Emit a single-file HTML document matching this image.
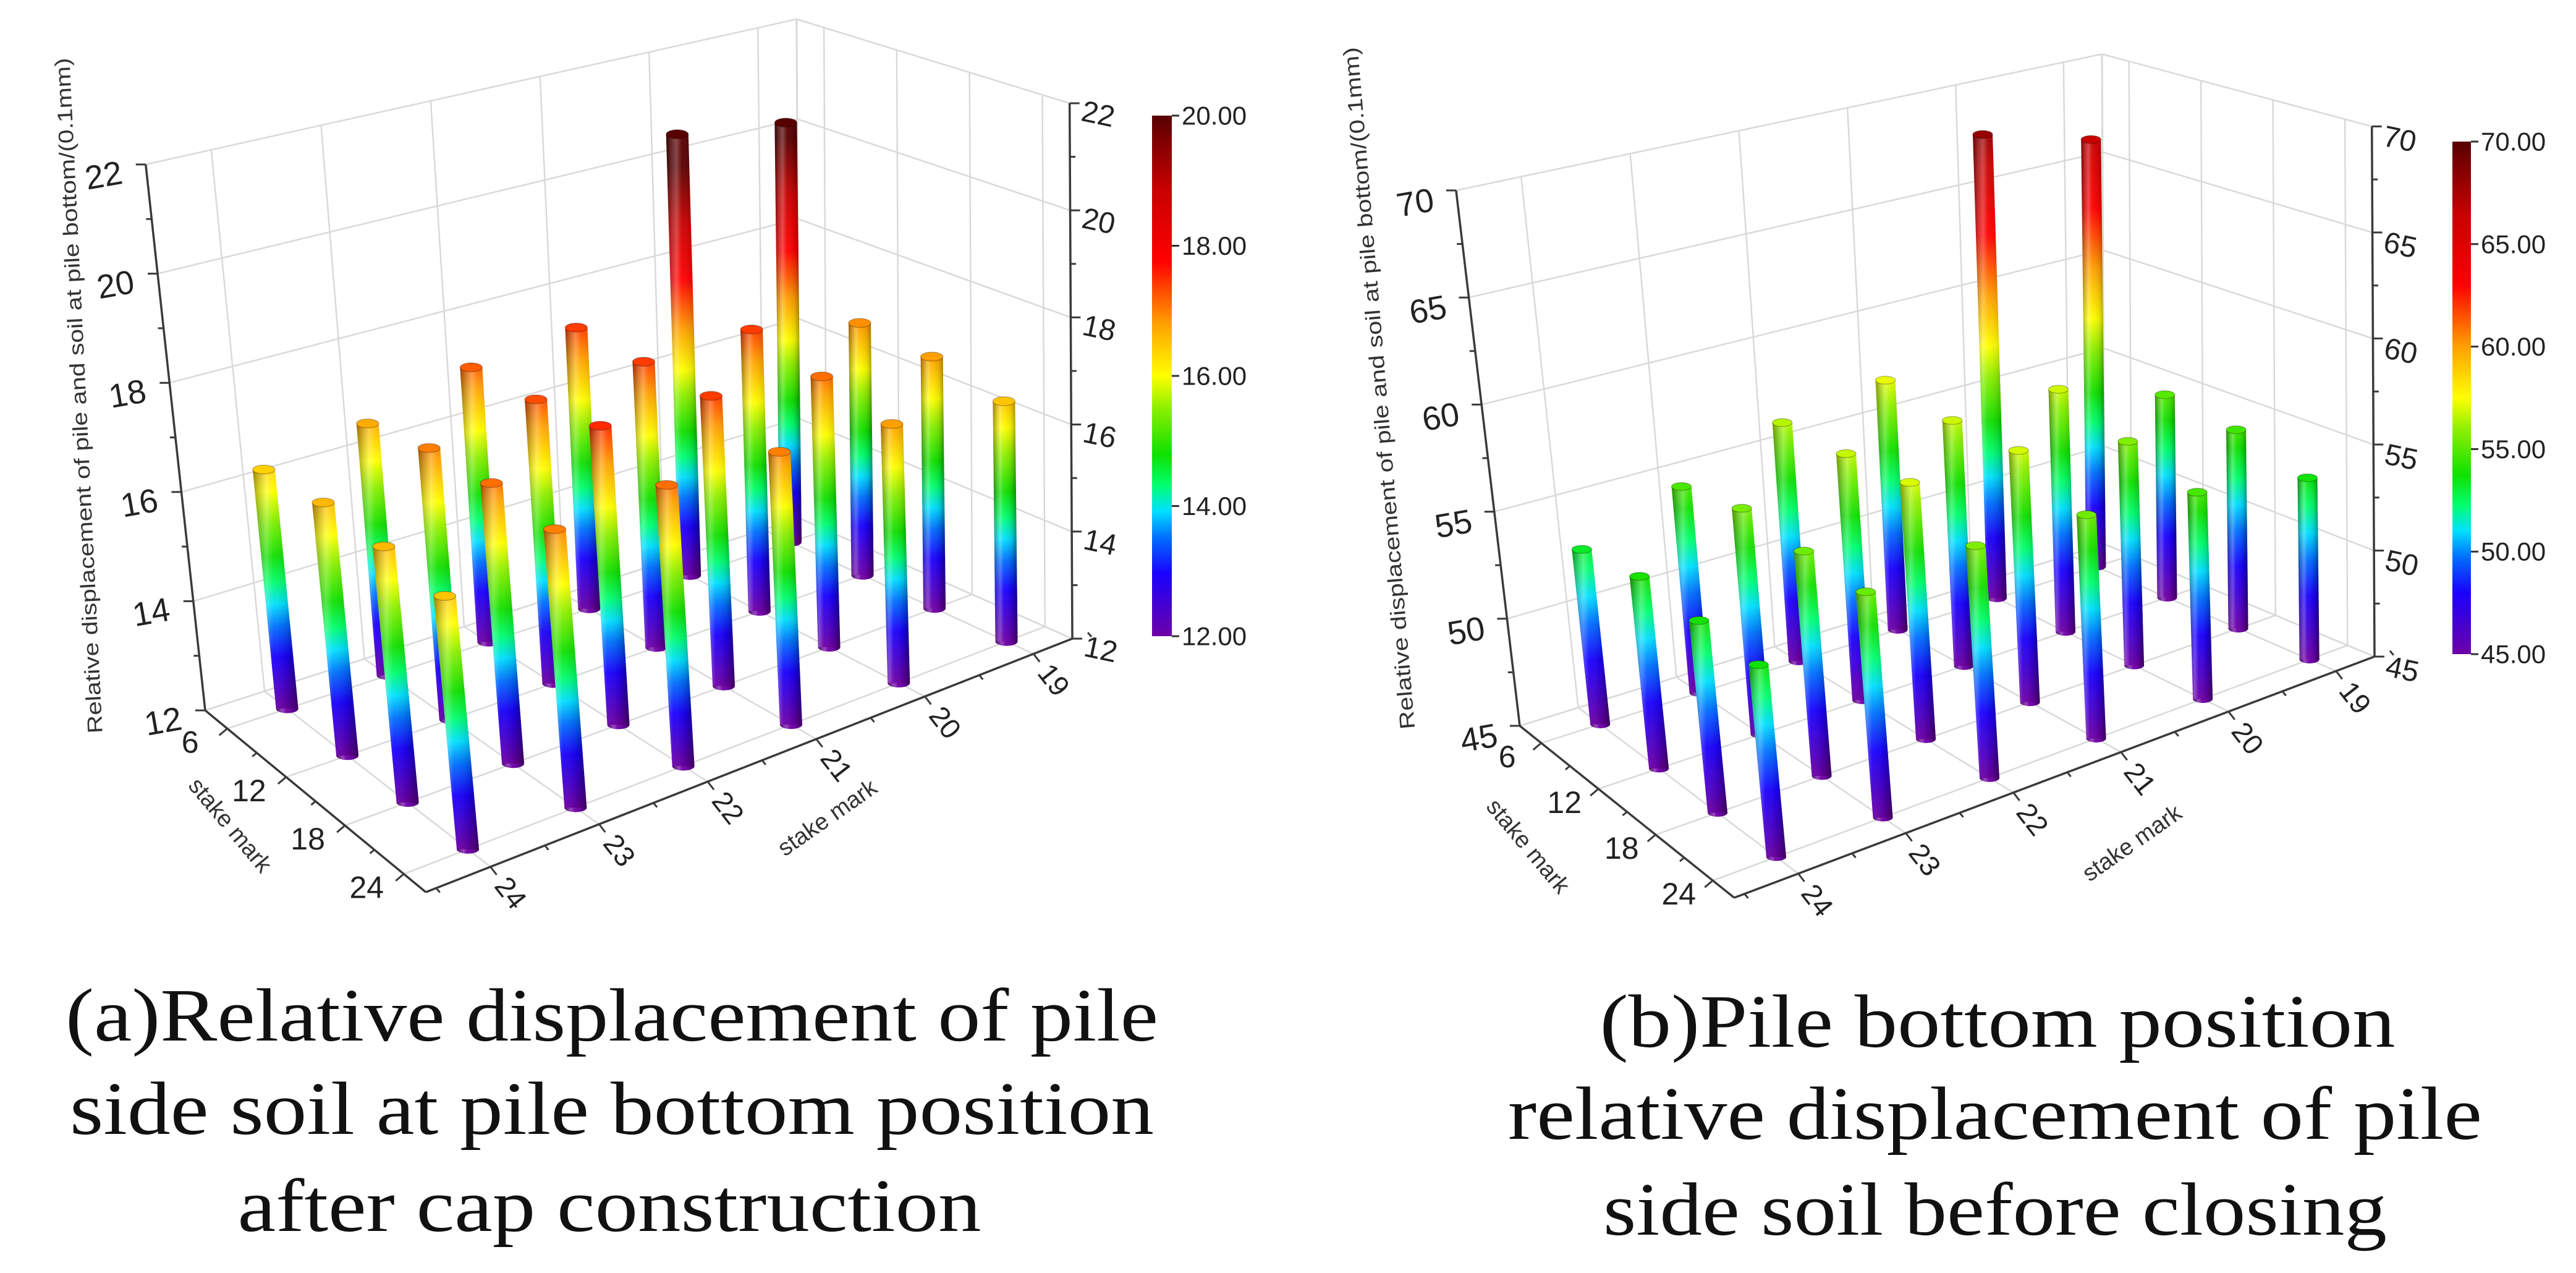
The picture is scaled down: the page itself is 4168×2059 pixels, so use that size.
<!DOCTYPE html>
<html><head><meta charset="utf-8">
<style>
html,body{margin:0;padding:0;background:#fff;width:4168px;height:2059px;overflow:hidden}
svg{display:block}
text{font-family:"Liberation Sans",sans-serif}
.cap{font-family:"Liberation Serif",serif;font-size:122px;fill:#111}
</style></head>
<body>
<svg id="fig" xmlns="http://www.w3.org/2000/svg" width="4168" height="2059" viewBox="0 0 4168 2059">
<rect width="4168" height="2059" fill="#ffffff"/>
<defs id="defs"></defs>
<g id="chartA"></g>
<g id="chartB"></g>
<g>
<text class="cap" x="990" y="1683" text-anchor="middle" textLength="1768" lengthAdjust="spacingAndGlyphs">(a)Relative displacement of pile</text>
<text class="cap" x="990" y="1834" text-anchor="middle" textLength="1754" lengthAdjust="spacingAndGlyphs">side soil at pile bottom position</text>
<text class="cap" x="986" y="1991" text-anchor="middle" textLength="1203" lengthAdjust="spacingAndGlyphs">after cap construction</text>
</g>
<g>
<text class="cap" x="3232" y="1693" text-anchor="middle" textLength="1287" lengthAdjust="spacingAndGlyphs">(b)Pile bottom position</text>
<text class="cap" x="3228" y="1842" text-anchor="middle" textLength="1576" lengthAdjust="spacingAndGlyphs">relative displacement of pile</text>
<text class="cap" x="3228" y="1997" text-anchor="middle" textLength="1268" lengthAdjust="spacingAndGlyphs">side soil before closing</text>
</g>
</svg>
<script>
// ---- data ----
const stakeA = [6, 12, 18, 24];
const stakeB = [19, 20, 21, 22, 23, 24];
// chart (a) values, one array per B stake, ordered by stakeA
const aB19 = [20.3, 16.9, 16.8, 16.5];
const aB20 = [20.6, 17.4, 17.1, 16.8];
const aB21 = [17.4, 17.4, 17.4, 17.0];
const aB22 = [17.2, 17.3, 17.5, 17.1];
const aB23 = [16.7, 17.0, 17.1, 17.0];
const aB24 = [16.4, 16.6, 16.6, 16.5];
// chart (b) values
const bB19 = [66.5, 55.0, 54.6, 53.6];
const bB20 = [68.0, 56.8, 55.7, 54.7];
const bB21 = [57.2, 56.8, 56.9, 55.4];
const bB22 = [56.5, 56.7, 57.0, 55.7];
const bB23 = [54.8, 55.6, 55.4, 55.3];
const bB24 = [53.2, 53.9, 53.8, 53.7];
const aZTicks = [12, 14, 16, 18, 20, 22];
const bZTicks = [45, 50, 55, 60, 65, 70];
const aBarTicks = [12, 14, 16, 18, 20];
const bBarTicks = [45, 50, 55, 60, 65, 70];

const NS = "http://www.w3.org/2000/svg";
const defs = document.getElementById("defs");
function mk(tag, attrs, parent) {
  const e = document.createElementNS(NS, tag);
  for (const k in attrs) e.setAttribute(k, attrs[k]);
  if (parent) parent.appendChild(e);
  return e;
}
const cmap = [[0, "#6e00a6"], [0.12, "#1a00ff"], [0.19, "#0070ff"], [0.24, "#00e0ff"], [0.29, "#00ff70"], [0.35, "#10e000"], [0.44, "#90f000"], [0.5, "#ffff00"], [0.6, "#ffa000"], [0.72, "#ff0000"], [0.86, "#c80000"], [1, "#580000"]];
function hex(c){return [parseInt(c.substr(1,2),16),parseInt(c.substr(3,2),16),parseInt(c.substr(5,2),16)];}
function colorAt(t){
  t=Math.max(0,Math.min(1,t));
  for(let i=1;i<cmap.length;i++){ if(t<=cmap[i][0]){ const a=hex(cmap[i-1][1]),b=hex(cmap[i][1]); const f=(t-cmap[i-1][0])/(cmap[i][0]-cmap[i-1][0]); return "rgb("+a.map((v,k)=>Math.round(v+(b[k]-v)*f)).join(",")+")"; } }
  return cmap[cmap.length-1][1];
}
function addStops(g){ cmap.forEach(s=>mk("stop",{offset:s[0],"stop-color":s[1]},g)); }

const sh = mk("linearGradient",{id:"shade",x1:0,y1:0,x2:1,y2:0},defs);
[[0,"#000",0.38],[0.3,"#fff",0.28],[0.45,"#fff",0.05],[0.75,"#000",0.1],[1,"#000",0.45]].forEach(s=>mk("stop",{offset:s[0],"stop-color":s[1],"stop-opacity":s[2]},sh));

function uOfA(a){ return 0.1 + 0.8*(a-6)/18; }
function wOfB(b){ return 0.94 - 0.168*(b-19); }

function drawChart(root, cfg, rows, zTicks, barTicks, pfx){
  const zmin=zTicks[0], zmax=zTicks[zTicks.length-1];
  function bl(c,u,w){ return c[0]*(1-u)*(1-w)+c[1]*u*(1-w)+c[2]*u*w+c[3]*(1-u)*w; }
  function P(u,w,z){
    const x=bl(cfg.FX,u,w), y=bl(cfg.FY,u,w), s=bl(cfg.S,u,w), t=bl(cfg.T,u,w);
    const h=(z-zmin)*s; return [x-t*h, y-h];
  }
  function line(p,q,stroke,sw,name){
    const l=mk("line",{x1:p[0],y1:p[1],x2:q[0],y2:q[1],stroke:stroke,"stroke-width":sw},root);
    
    
    return l;
  }
  const grid="#d9d9d9";
  stakeA.forEach(a=>line(P(uOfA(a),0,zmin),P(uOfA(a),1,zmin),grid,2.5,"floor-gridline"));
  stakeB.forEach(b=>line(P(0,wOfB(b),zmin),P(1,wOfB(b),zmin),grid,2.5,"floor-gridline"));
  line(P(0,0,zmin),P(0,1,zmin),grid,2.5,"floor-edge");
  line(P(0,1,zmin),P(1,1,zmin),grid,2.5,"floor-edge");
  zTicks.forEach(z=>line(P(0,0,z),P(0,1,z),grid,2.5,"left-wall-gridline"));
  stakeB.forEach(b=>line(P(0,wOfB(b),zmin),P(0,wOfB(b),zmax),grid,2.5,"left-wall-gridline"));
  line(P(0,1,zmin),P(0,1,zmax),grid,3,"back-corner-edge");
  zTicks.forEach(z=>line(P(0,1,z),P(1,1,z),grid,2.5,"back-wall-gridline"));
  stakeA.forEach(a=>line(P(uOfA(a),1,zmin),P(uOfA(a),1,zmax),grid,2.5,"back-wall-gridline"));

  const ax="#3a3a3a";
  line(P(0,0,zmin),P(0,0,zmax),ax,3.5,"z-axis-left");
  line(P(1,1,zmin),P(1,1,zmax),ax,3.5,"z-axis-right");
  const zs=zTicks[1]-zTicks[0];
  for(let i=0;i<zTicks.length;i++){
    const z=zTicks[i];
    const pl=P(0,0,z), pr=P(1,1,z);
    line(pl,[pl[0]-16,pl[1]],ax,3,"z-tick-left");
    line(pr,[pr[0]+16,pr[1]],ax,3,"z-tick-right");
    if(i<zTicks.length-1){
      const m=z+zs/2, ml=P(0,0,m), mr=P(1,1,m);
      line(ml,[ml[0]-9,ml[1]],ax,3,"z-minor-tick-left");
      line(mr,[mr[0]+9,mr[1]],ax,3,"z-minor-tick-right");
    }
    const lx=pl[0]+cfg.zlOff[0], ly=pl[1]+cfg.zlOff[1];
    const tl=mk("text",{x:lx,y:ly,"text-anchor":"middle","dominant-baseline":"central","font-size":54,fill:"#222",transform:"rotate(-10 "+lx+" "+ly+")"},root);
    tl.textContent=z;
    
    
    const rx=pr[0]+cfg.zrOff[0], ry=pr[1]+cfg.zrOff[1];
    const tr=mk("text",{x:rx,y:ry,"text-anchor":"middle","dominant-baseline":"central","font-size":48,fill:"#222",transform:"rotate(12 "+rx+" "+ry+")"},root);
    tr.textContent=z;
    
    
  }
  line(P(0,0,zmin),P(1,0,zmin),ax,3.5,"x-axis-stake-a");
  line(P(1,0,zmin),P(1,1,zmin),ax,3.5,"y-axis-stake-b");
  for(let a=3;a<=27;a+=3){
    if(uOfA(a)<0||uOfA(a)>1) continue;
    const p=P(uOfA(a),0,zmin), major=(a%6===0);
    line(p,[p[0]-(major?13:7),p[1]+(major?11:6)],ax,3,"a-axis-tick");
  }
  stakeA.forEach(a=>{
    const p=P(uOfA(a),0,zmin);
    const t=mk("text",{x:p[0]+cfg.aOff[0],y:p[1]+cfg.aOff[1],"text-anchor":"middle","dominant-baseline":"central","font-size":50,fill:"#222"},root);
    t.textContent=a;
    
    
  });
  for(let b=18.5;b<=24.5;b+=0.5){
    const p=P(1,wOfB(b),zmin), major=Number.isInteger(b);
    line(p,[p[0]+(major?10:6),p[1]+(major?13:7)],ax,3,"b-axis-tick");
  }
  stakeB.forEach(b=>{
    const p=P(1,wOfB(b),zmin), x=p[0]+cfg.bOff[0], y=p[1]+cfg.bOff[1];
    const t=mk("text",{x:x,y:y,"text-anchor":"middle","dominant-baseline":"central","font-size":46,fill:"#222",transform:"rotate(52 "+x+" "+y+")"},root);
    t.textContent=b;
    
    
  });
  const s1=mk("text",{x:cfg.saPos[0],y:cfg.saPos[1],"text-anchor":"middle","dominant-baseline":"central","font-size":38,fill:"#333",transform:"rotate(50 "+cfg.saPos[0]+" "+cfg.saPos[1]+")"},root);
  s1.textContent="stake mark";
  
  
  const s2=mk("text",{x:cfg.sbPos[0],y:cfg.sbPos[1],"text-anchor":"middle","dominant-baseline":"central","font-size":38,fill:"#333",transform:"rotate(-35 "+cfg.sbPos[0]+" "+cfg.sbPos[1]+")"},root);
  s2.textContent="stake mark";
  
  
  const yt=mk("text",{x:cfg.ytPos[0],y:cfg.ytPos[1],"text-anchor":"middle","dominant-baseline":"central","font-size":34,fill:"#333",textLength:cfg.ytLen,lengthAdjust:"spacingAndGlyphs",transform:"rotate("+cfg.ytRot+" "+cfg.ytPos[0]+" "+cfg.ytPos[1]+")"},root);
  yt.textContent="Relative displacement of pile and soil at pile bottom/(0.1mm)";
  
  

  const piles=[];
  stakeB.forEach((b,j)=>stakeA.forEach((a,i)=>{
    const u=uOfA(a), w=wOfB(b), v=rows[j][i];
    piles.push({a:a,b:b,v:v,bot:P(u,w,zmin),top:P(u,w,v),cm:P(u,w,cfg.cmax)});
  }));
  piles.sort((p,q)=>p.bot[1]-q.bot[1]);
  const r=cfg.r;
  piles.forEach((p,k)=>{
    const gid=pfx+"g"+k;
    const g=mk("linearGradient",{id:gid,gradientUnits:"userSpaceOnUse",x1:p.bot[0],y1:p.bot[1],x2:p.cm[0],y2:p.cm[1]},defs);
    addStops(g);
    const grp=mk("g",{},root);
    
    
    const pts=[[p.bot[0]-r,p.bot[1]],[p.bot[0]+r,p.bot[1]],[p.top[0]+r,p.top[1]],[p.top[0]-r,p.top[1]]].map(q=>q.join(",")).join(" ");
    mk("ellipse",{cx:p.bot[0],cy:p.bot[1],rx:r,ry:r*0.4,fill:colorAt(0)},grp);
    mk("ellipse",{cx:p.bot[0],cy:p.bot[1],rx:r,ry:r*0.4,fill:"url(#shade)"},grp);
    mk("polygon",{points:pts,fill:"url(#"+gid+")"},grp);
    mk("polygon",{points:pts,fill:"url(#shade)"},grp);
    const tc=colorAt((p.v-cfg.cmin)/(cfg.cmax-cfg.cmin));
    mk("ellipse",{cx:p.top[0],cy:p.top[1],rx:r,ry:r*0.4,fill:tc,stroke:"rgba(0,0,0,0.25)","stroke-width":1.5},grp);
  });

  const cb=cfg.cb;
  const cg=mk("linearGradient",{id:pfx+"cbar",x1:0,y1:1,x2:0,y2:0},defs);
  addStops(cg);
  const rect=mk("rect",{x:cb.x,y:cb.y0,width:cb.w,height:cb.y1-cb.y0,fill:"url(#"+pfx+"cbar)"},root);
  
  
  barTicks.forEach(v=>{
    const y=cb.y1-(v-cfg.cmin)/(cfg.cmax-cfg.cmin)*(cb.y1-cb.y0);
    line([cb.x+cb.w,y],[cb.x+cb.w+12,y],"#333",3,"colorbar-tick");
    const t=mk("text",{x:cb.x+cb.w+16,y:y,"dominant-baseline":"central","font-size":42,fill:"#222"},root);
    t.textContent=v.toFixed(2);
    
    
  });
}

const cfgA={FX:[332,689,1735,1293],FY:[1149,1443,1033,838],S:[88.3,92,86.6,80.7],T:[0.109,0.1,0.005,0.005],
  cmin:12,cmax:20,r:18,zlOff:[-68,18],zrOff:[46,18],aOff:[-60,22],bOff:[33,42],
  saPos:[372,1335],sbPos:[1339,1323],ytPos:[128,640],ytLen:1094,ytRot:-92.8,
  cb:{x:1864,w:32,y0:187,y1:1029}};
const cfgB={FX:[2459,2806,3842,3405],FY:[1174,1452,1062,880],S:[34.64,36.1,34.3,31.7],T:[0.119,0.1,0.005,0.005],
  cmin:45,cmax:70,r:16,zlOff:[-66,20],zrOff:[45,21],aOff:[-55,22],bOff:[31,43],
  saPos:[2472,1369],sbPos:[3450,1364],ytPos:[2232,628],ytLen:1107,ytRot:-94.8,
  cb:{x:3968,w:30,y0:229,y1:1058}};

drawChart(document.getElementById("chartA"),cfgA,[aB19,aB20,aB21,aB22,aB23,aB24],aZTicks,aBarTicks,"A");
drawChart(document.getElementById("chartB"),cfgB,[bB19,bB20,bB21,bB22,bB23,bB24],bZTicks,bBarTicks,"B");
</script>
</body></html>
